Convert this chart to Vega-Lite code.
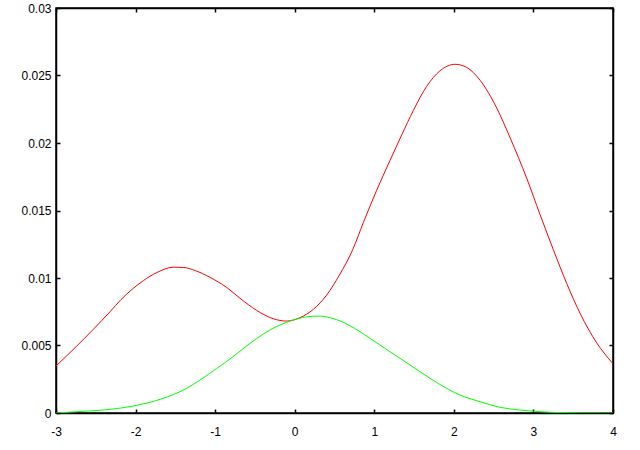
{
  "$schema": "https://vega.github.io/schema/vega-lite/v6.json",
  "width": 557,
  "height": 405,
  "autosize": "none",
  "padding": {"left": 56, "top": 8, "right": 27, "bottom": 37},
  "background": "white",
  "data": {
    "values": [
      {"s": "red", "x": -3.0, "y": 0.00348},
      {"s": "red", "x": -2.749, "y": 0.0049},
      {"s": "red", "x": -2.531, "y": 0.0062},
      {"s": "red", "x": -2.321, "y": 0.0075},
      {"s": "red", "x": -2.183, "y": 0.0084},
      {"s": "red", "x": -2.036, "y": 0.0092},
      {"s": "red", "x": -1.903, "y": 0.0098},
      {"s": "red", "x": -1.734, "y": 0.0104},
      {"s": "red", "x": -1.526, "y": 0.0108},
      {"s": "red", "x": -1.4, "y": 0.01078},
      {"s": "red", "x": -1.25, "y": 0.01055},
      {"s": "red", "x": -1.065, "y": 0.01005},
      {"s": "red", "x": -0.855, "y": 0.0093},
      {"s": "red", "x": -0.688, "y": 0.0085},
      {"s": "red", "x": -0.478, "y": 0.0076},
      {"s": "red", "x": -0.269, "y": 0.00698},
      {"s": "red", "x": -0.101, "y": 0.00681},
      {"s": "red", "x": 0.066, "y": 0.00706},
      {"s": "red", "x": 0.234, "y": 0.00768},
      {"s": "red", "x": 0.402, "y": 0.00874},
      {"s": "red", "x": 0.56, "y": 0.0102},
      {"s": "red", "x": 0.729, "y": 0.0121},
      {"s": "red", "x": 0.862, "y": 0.0141},
      {"s": "red", "x": 1.03, "y": 0.0165},
      {"s": "red", "x": 1.197, "y": 0.0187},
      {"s": "red", "x": 1.345, "y": 0.0206},
      {"s": "red", "x": 1.49, "y": 0.0224},
      {"s": "red", "x": 1.659, "y": 0.0242},
      {"s": "red", "x": 1.826, "y": 0.02535},
      {"s": "red", "x": 2.014, "y": 0.02583},
      {"s": "red", "x": 2.161, "y": 0.0256},
      {"s": "red", "x": 2.329, "y": 0.02465},
      {"s": "red", "x": 2.538, "y": 0.0226},
      {"s": "red", "x": 2.706, "y": 0.0204},
      {"s": "red", "x": 2.915, "y": 0.0174},
      {"s": "red", "x": 3.083, "y": 0.0147},
      {"s": "red", "x": 3.25, "y": 0.0121},
      {"s": "red", "x": 3.418, "y": 0.0096},
      {"s": "red", "x": 3.585, "y": 0.0074},
      {"s": "red", "x": 3.795, "y": 0.0052},
      {"s": "red", "x": 4.0, "y": 0.00365},
      {"s": "green", "x": -3.0, "y": 0.0},
      {"s": "green", "x": -2.74, "y": 0.0001},
      {"s": "green", "x": -2.406, "y": 0.00022},
      {"s": "green", "x": -2.029, "y": 0.00052},
      {"s": "green", "x": -1.693, "y": 0.00101},
      {"s": "green", "x": -1.357, "y": 0.00183},
      {"s": "green", "x": -1.19, "y": 0.00244},
      {"s": "green", "x": -0.98, "y": 0.0033},
      {"s": "green", "x": -0.78, "y": 0.00415},
      {"s": "green", "x": -0.562, "y": 0.00516},
      {"s": "green", "x": -0.311, "y": 0.00615},
      {"s": "green", "x": -0.059, "y": 0.00681},
      {"s": "green", "x": 0.151, "y": 0.00712},
      {"s": "green", "x": 0.3, "y": 0.00718},
      {"s": "green", "x": 0.45, "y": 0.00705},
      {"s": "green", "x": 0.6, "y": 0.00675},
      {"s": "green", "x": 0.75, "y": 0.00628},
      {"s": "green", "x": 0.946, "y": 0.00553},
      {"s": "green", "x": 1.197, "y": 0.00454},
      {"s": "green", "x": 1.449, "y": 0.00356},
      {"s": "green", "x": 1.7, "y": 0.00257},
      {"s": "green", "x": 1.93, "y": 0.00176},
      {"s": "green", "x": 2.077, "y": 0.00133},
      {"s": "green", "x": 2.329, "y": 0.00084},
      {"s": "green", "x": 2.58, "y": 0.00042},
      {"s": "green", "x": 2.831, "y": 0.00022},
      {"s": "green", "x": 3.083, "y": 0.0001},
      {"s": "green", "x": 3.271, "y": 0.00004},
      {"s": "green", "x": 4.0, "y": 0.0}
    ]
  },
  "layer": [
    {
      "transform": [{"filter": "datum.s === 'red'"}],
      "mark": {"type": "line", "color": "#ff0000", "strokeWidth": 1, "interpolate": "monotone", "clip": true},
      "encoding": {
        "x": {"field": "x", "type": "quantitative",
              "scale": {"domain": [-3, 4], "nice": false, "zero": false},
              "axis": {"orient": "bottom", "values": [-3, -2, -1, 0, 1, 2, 3, 4], "labelExpr": "'' + datum.value", "labelPadding": 17}},
        "y": {"field": "y", "type": "quantitative",
              "scale": {"domain": [0, 0.03], "nice": false},
              "axis": {"orient": "left", "values": [0, 0.005, 0.01, 0.015, 0.02, 0.025, 0.03], "labelExpr": "'' + datum.value", "labelPadding": 9}}
      }
    },
    {
      "transform": [{"filter": "datum.s === 'green'"}],
      "mark": {"type": "line", "color": "#00ff00", "strokeWidth": 1, "interpolate": "monotone", "clip": true},
      "encoding": {
        "x": {"field": "x", "type": "quantitative",
              "scale": {"domain": [-3, 4], "nice": false, "zero": false},
              "axis": {"orient": "top", "values": [-3, -2, -1, 0, 1, 2, 3, 4], "labels": false}},
        "y": {"field": "y", "type": "quantitative",
              "scale": {"domain": [0, 0.03], "nice": false},
              "axis": {"orient": "right", "values": [0, 0.005, 0.01, 0.015, 0.02, 0.025, 0.03], "labels": false}}
      }
    }
  ],
  "resolve": {"axis": {"x": "independent", "y": "independent"}},
  "config": {
    "view": {"stroke": "#000000", "strokeWidth": 1.5},
    "axis": {
      "title": null,
      "grid": false,
      "domain": true,
      "domainColor": "#000000",
      "domainWidth": 1.5,
      "ticks": true,
      "tickColor": "#000000",
      "tickWidth": 1.5,
      "tickSize": -4,
      "labelFont": "Liberation Sans",
      "labelFontSize": 12,
      "labelColor": "#000000",
      "labelFlush": false,
      "labelOverlap": false
    }
  }
}
